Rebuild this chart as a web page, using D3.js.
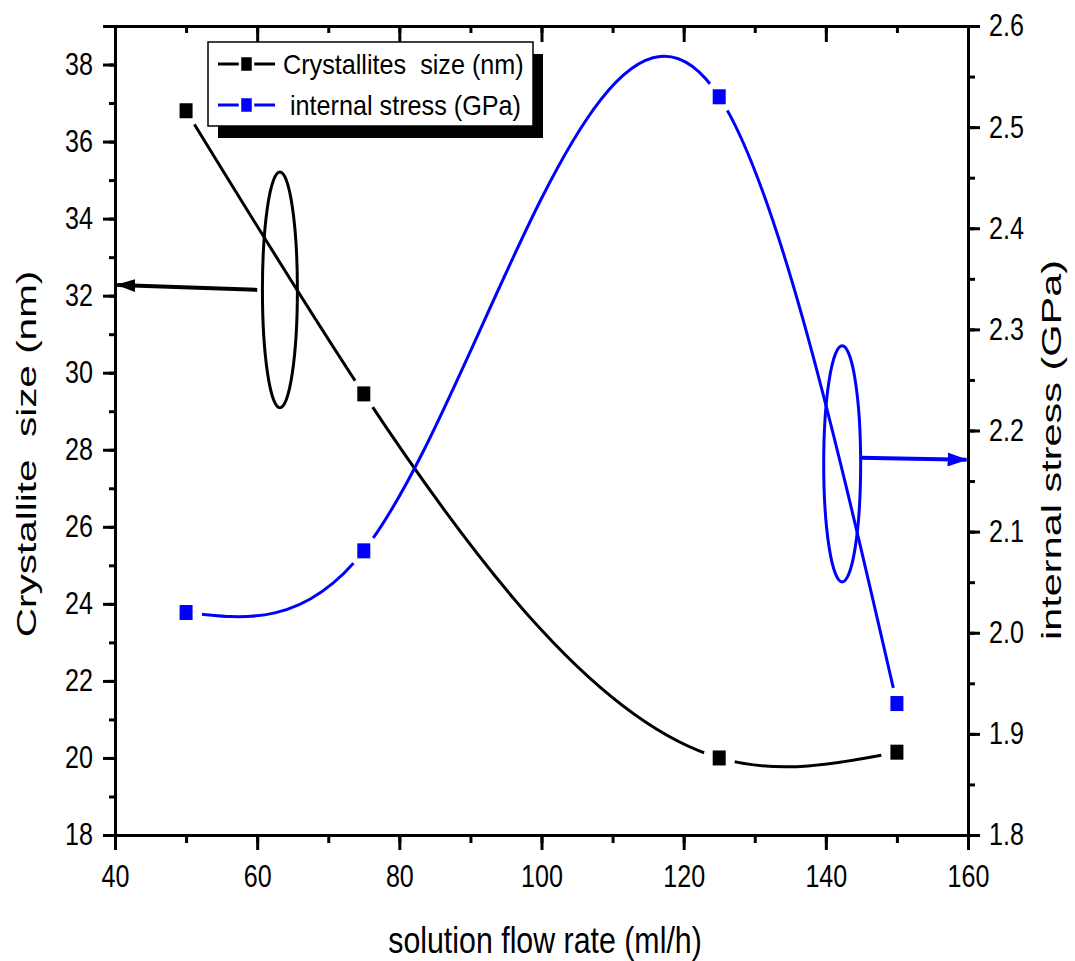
<!DOCTYPE html>
<html>
<head>
<meta charset="utf-8">
<script src="https://cdn.jsdelivr.net/npm/d3@7"></script>
<style>
  body { margin: 0; background: #fff; }
  text { font-family: "Liberation Sans", Arial, sans-serif; fill: #000; }
</style>
</head>
<body>
<svg id="chart" width="1075" height="961"></svg>
<script>
// flow rates (ml/h)
const flowRate = [50, 75, 125, 150];
// crystallite size (nm), left axis
const crystSize = [36.8, 29.45, 20.0, 20.15];
// internal stress (GPa), right axis
const stress = [2.02, 2.081, 2.53, 1.93];

const xTicks = [40, 60, 80, 100, 120, 140, 160];
const yLeftTicks = [18, 20, 22, 24, 26, 28, 30, 32, 34, 36, 38];
const yRightTicks = [1.8, 1.9, 2.0, 2.1, 2.2, 2.3, 2.4, 2.5, 2.6];

// annotation ellipses + arrows, in data units
const leftNote = { cx: 63.2, cy: 32.15, rx: 2.46, ry: 3.06, from: [60.0, 32.15], to: [40.3, 32.28] };
const rightNote = { cx: 142.3, cy: 2.167, rx: 2.6, ry: 0.1167, from: [144.8, 2.173], to: [159.8, 2.171] };

const margin = { left: 115, right: 968, top: 26, bottom: 835 };

const svg = d3.select("#chart");

const x = d3.scaleLinear().domain([40, 160]).range([margin.left, margin.right]);
const yL = d3.scaleLinear().domain([18, 39]).range([margin.bottom, margin.top]);
const yR = d3.scaleLinear().domain([1.8, 2.6]).range([margin.bottom, margin.top]);

const minorX = d3.range(40, 161, 10);
const minorL = d3.range(18, 39.01, 1);
const minorR = d3.range(1.8, 2.601, 0.05);

// natural cubic spline of y as a function of x (like the plotting program's "Spline" connect)
function NaturalX(context) { this._context = context; }
NaturalX.prototype = {
  areaStart() { this._line = 0; },
  areaEnd() { this._line = NaN; },
  lineStart() { this._px = []; this._py = []; },
  point(px, py) { this._px.push(+px); this._py.push(+py); },
  lineEnd() {
    const X = this._px, Y = this._py, n = X.length, ctx = this._context;
    if (!n) return;
    ctx.moveTo(X[0], Y[0]);
    if (n === 2) { ctx.lineTo(X[1], Y[1]); return; }
    const h = [], s = [];
    for (let i = 0; i < n - 1; i++) { h.push(X[i + 1] - X[i]); s.push((Y[i + 1] - Y[i]) / h[i]); }
    // tridiagonal solve for second derivatives, M0 = Mn-1 = 0
    const M = new Array(n).fill(0);
    const a = [], b = [], c = [], r = [];
    for (let i = 1; i < n - 1; i++) {
      a.push(h[i - 1]); b.push(2 * (h[i - 1] + h[i])); c.push(h[i]);
      r.push(6 * (s[i] - s[i - 1]));
    }
    const m = b.length;
    for (let i = 1; i < m; i++) {
      const w = a[i] / b[i - 1];
      b[i] -= w * c[i - 1];
      r[i] -= w * r[i - 1];
    }
    const sol = new Array(m);
    sol[m - 1] = r[m - 1] / b[m - 1];
    for (let i = m - 2; i >= 0; i--) sol[i] = (r[i] - c[i] * sol[i + 1]) / b[i];
    for (let i = 0; i < m; i++) M[i + 1] = sol[i];
    for (let i = 0; i < n - 1; i++) {
      const d0 = s[i] - h[i] * (2 * M[i] + M[i + 1]) / 6;
      const d1 = s[i] + h[i] * (M[i] + 2 * M[i + 1]) / 6;
      ctx.bezierCurveTo(
        X[i] + h[i] / 3, Y[i] + d0 * h[i] / 3,
        X[i + 1] - h[i] / 3, Y[i + 1] - d1 * h[i] / 3,
        X[i + 1], Y[i + 1]);
    }
  }
};
const curveNaturalX = ctx => new NaturalX(ctx);

// masks leave a small gap in each curve around its own symbols
const defs = svg.append("defs");
function makeMask(id, ys) {
  const m = defs.append("mask").attr("id", id).attr("maskUnits", "userSpaceOnUse")
    .attr("x", 0).attr("y", 0).attr("width", 1075).attr("height", 961);
  m.append("rect").attr("width", 1075).attr("height", 961).attr("fill", "#fff");
  m.selectAll("circle").data(flowRate).join("circle")
    .attr("cx", d => x(d))
    .attr("cy", (d, i) => ys(i))
    .attr("r", 16)
    .attr("fill", "#000");
}
makeMask("gapBlack", i => yL(crystSize[i]));
makeMask("gapBlue", i => yR(stress[i]));

function arrowHead(id, color, len, half) {
  defs.append("marker").attr("id", id)
    .attr("markerUnits", "userSpaceOnUse")
    .attr("viewBox", `0 ${-half} ${len} ${half * 2}`)
    .attr("refX", len - 1).attr("refY", 0)
    .attr("markerWidth", len).attr("markerHeight", half * 2)
    .attr("orient", "auto")
    .append("path")
    .attr("d", `M0,${-half}L${len},0L0,${half}Z`)
    .attr("fill", color);
}
arrowHead("headBlack", "#000", 19, 6.5);
arrowHead("headBlue", "#0000ff", 20, 7);

// the figure is stretched vertically, so horizontal text gets squeezed in x
const TICK_SX = 0.81;
function narrow(sel, sx) {
  sel.each(function () {
    const t = d3.select(this);
    const x0 = +t.attr("x") || 0;
    t.attr("x", x0 / sx).attr("transform", `scale(${sx},1)`);
  });
}

function styleAxis(g) {
  g.select(".domain").attr("stroke", "#000").attr("stroke-width", 3);
  g.selectAll(".tick line").attr("stroke", "#000").attr("stroke-width", 3);
  g.selectAll(".tick text").attr("font-size", 31).attr("fill", "#000")
    .style("font-family", "'Liberation Sans', Arial, sans-serif")
    .call(narrow, TICK_SX);
}

svg.append("g").attr("transform", `translate(0,${margin.bottom})`)
  .call(d3.axisBottom(x).tickValues(minorX).tickSize(8).tickFormat(""))
  .call(styleAxis);
svg.append("g").attr("transform", `translate(0,${margin.bottom})`)
  .call(d3.axisBottom(x).tickValues(xTicks).tickSize(15).tickPadding(15).tickFormat(d3.format("d")))
  .call(styleAxis);

svg.append("g").attr("transform", `translate(0,${margin.top})`)
  .call(d3.axisBottom(x).tickValues(minorX).tickSize(7).tickFormat(""))
  .call(styleAxis);
svg.append("g").attr("transform", `translate(0,${margin.top})`)
  .call(d3.axisBottom(x).tickValues(xTicks).tickSize(16).tickFormat(""))
  .call(styleAxis);

svg.append("g").attr("transform", `translate(${margin.left},0)`)
  .call(d3.axisLeft(yL).tickValues(minorL).tickSize(6).tickFormat(""))
  .call(styleAxis);
svg.append("g").attr("transform", `translate(${margin.left},0)`)
  .call(d3.axisLeft(yL).tickValues(yLeftTicks).tickSize(12).tickPadding(10).tickFormat(d3.format("d")))
  .call(styleAxis);

svg.append("g").attr("transform", `translate(${margin.right},0)`)
  .call(d3.axisRight(yR).tickValues(minorR).tickSize(7).tickFormat(""))
  .call(styleAxis);
svg.append("g").attr("transform", `translate(${margin.right},0)`)
  .call(d3.axisRight(yR).tickValues(yRightTicks).tickSize(12).tickPadding(9).tickFormat(d3.format(".1f")))
  .call(styleAxis);

// curves
const lineBlack = d3.line().x(d => x(d[0])).y(d => yL(d[1])).curve(curveNaturalX);
const lineBlue = d3.line().x(d => x(d[0])).y(d => yR(d[1])).curve(curveNaturalX);

svg.append("path")
  .datum(d3.zip(flowRate, crystSize))
  .attr("d", lineBlack)
  .attr("fill", "none").attr("stroke", "#000").attr("stroke-width", 3)
  .attr("mask", "url(#gapBlack)");

svg.append("path")
  .datum(d3.zip(flowRate, stress))
  .attr("d", lineBlue)
  .attr("fill", "none").attr("stroke", "#0000ff").attr("stroke-width", 3)
  .attr("mask", "url(#gapBlue)");

const symW = 13, symH = 15;
svg.selectAll(".symBlack").data(d3.zip(flowRate, crystSize)).join("rect")
  .attr("class", "symBlack")
  .attr("x", d => x(d[0]) - symW / 2).attr("y", d => yL(d[1]) - symH / 2)
  .attr("width", symW).attr("height", symH).attr("fill", "#000");

svg.selectAll(".symBlue").data(d3.zip(flowRate, stress)).join("rect")
  .attr("class", "symBlue")
  .attr("x", d => x(d[0]) - symW / 2).attr("y", d => yR(d[1]) - symH / 2)
  .attr("width", symW).attr("height", symH).attr("fill", "#0000ff");

// annotations
function drawNote(n, ys, color, head) {
  svg.append("ellipse")
    .attr("cx", x(n.cx)).attr("cy", ys(n.cy))
    .attr("rx", x(n.cx + n.rx) - x(n.cx))
    .attr("ry", ys(n.cy) - ys(n.cy + n.ry))
    .attr("fill", "none").attr("stroke", color).attr("stroke-width", 3);
  svg.append("line")
    .attr("x1", x(n.from[0])).attr("y1", ys(n.from[1]))
    .attr("x2", x(n.to[0])).attr("y2", ys(n.to[1]))
    .attr("stroke", color).attr("stroke-width", 4)
    .attr("marker-end", `url(#${head})`);
}
drawNote(leftNote, yL, "#000", "headBlack");
drawNote(rightNote, yR, "#0000ff", "headBlue");

// legend
const legendItems = [
  { label: "Crystallites  size (nm)", color: "#000" },
  { label: " internal stress (GPa)", color: "#0000ff" }
];
const lg = svg.append("g").attr("transform", "translate(208,42)");
lg.append("rect").attr("x", 10).attr("y", 12).attr("width", 325).attr("height", 84).attr("fill", "#000");
lg.append("rect").attr("x", 0).attr("y", 0).attr("width", 325).attr("height", 84)
  .attr("fill", "#fff").attr("stroke", "#000").attr("stroke-width", 1.5);

const rows = lg.selectAll(".row").data(legendItems).join("g")
  .attr("transform", (d, i) => `translate(0,${22 + i * 41})`);
rows.append("line").attr("x1", 10).attr("x2", 67).attr("y1", 0).attr("y2", 0)
  .attr("stroke", d => d.color).attr("stroke-width", 3);
rows.append("rect").attr("x", 32).attr("y", -8).attr("width", 13).attr("height", 16)
  .attr("fill", d => d.color).attr("stroke", "#fff").attr("stroke-width", 2.5);
rows.append("text")
  .attr("transform", "translate(75,10) scale(0.9,1)")
  .attr("font-size", 28)
  .style("white-space", "pre")
  .text(d => d.label);

// axis titles
svg.append("text")
  .attr("transform", "translate(36,454) rotate(-90) scale(1.5,1)")
  .attr("text-anchor", "middle")
  .attr("font-size", 27)
  .style("white-space", "pre")
  .text("Crystallite  size (nm)");

svg.append("text")
  .attr("transform", "translate(1061,450) rotate(-90) scale(1.48,1)")
  .attr("text-anchor", "middle")
  .attr("font-size", 28)
  .text("internal stress (GPa)");

svg.append("text")
  .attr("transform", "translate(545,953) scale(0.82,1)")
  .attr("text-anchor", "middle")
  .attr("font-size", 37)
  .text("solution flow rate (ml/h)");
</script>
</body>
</html>
